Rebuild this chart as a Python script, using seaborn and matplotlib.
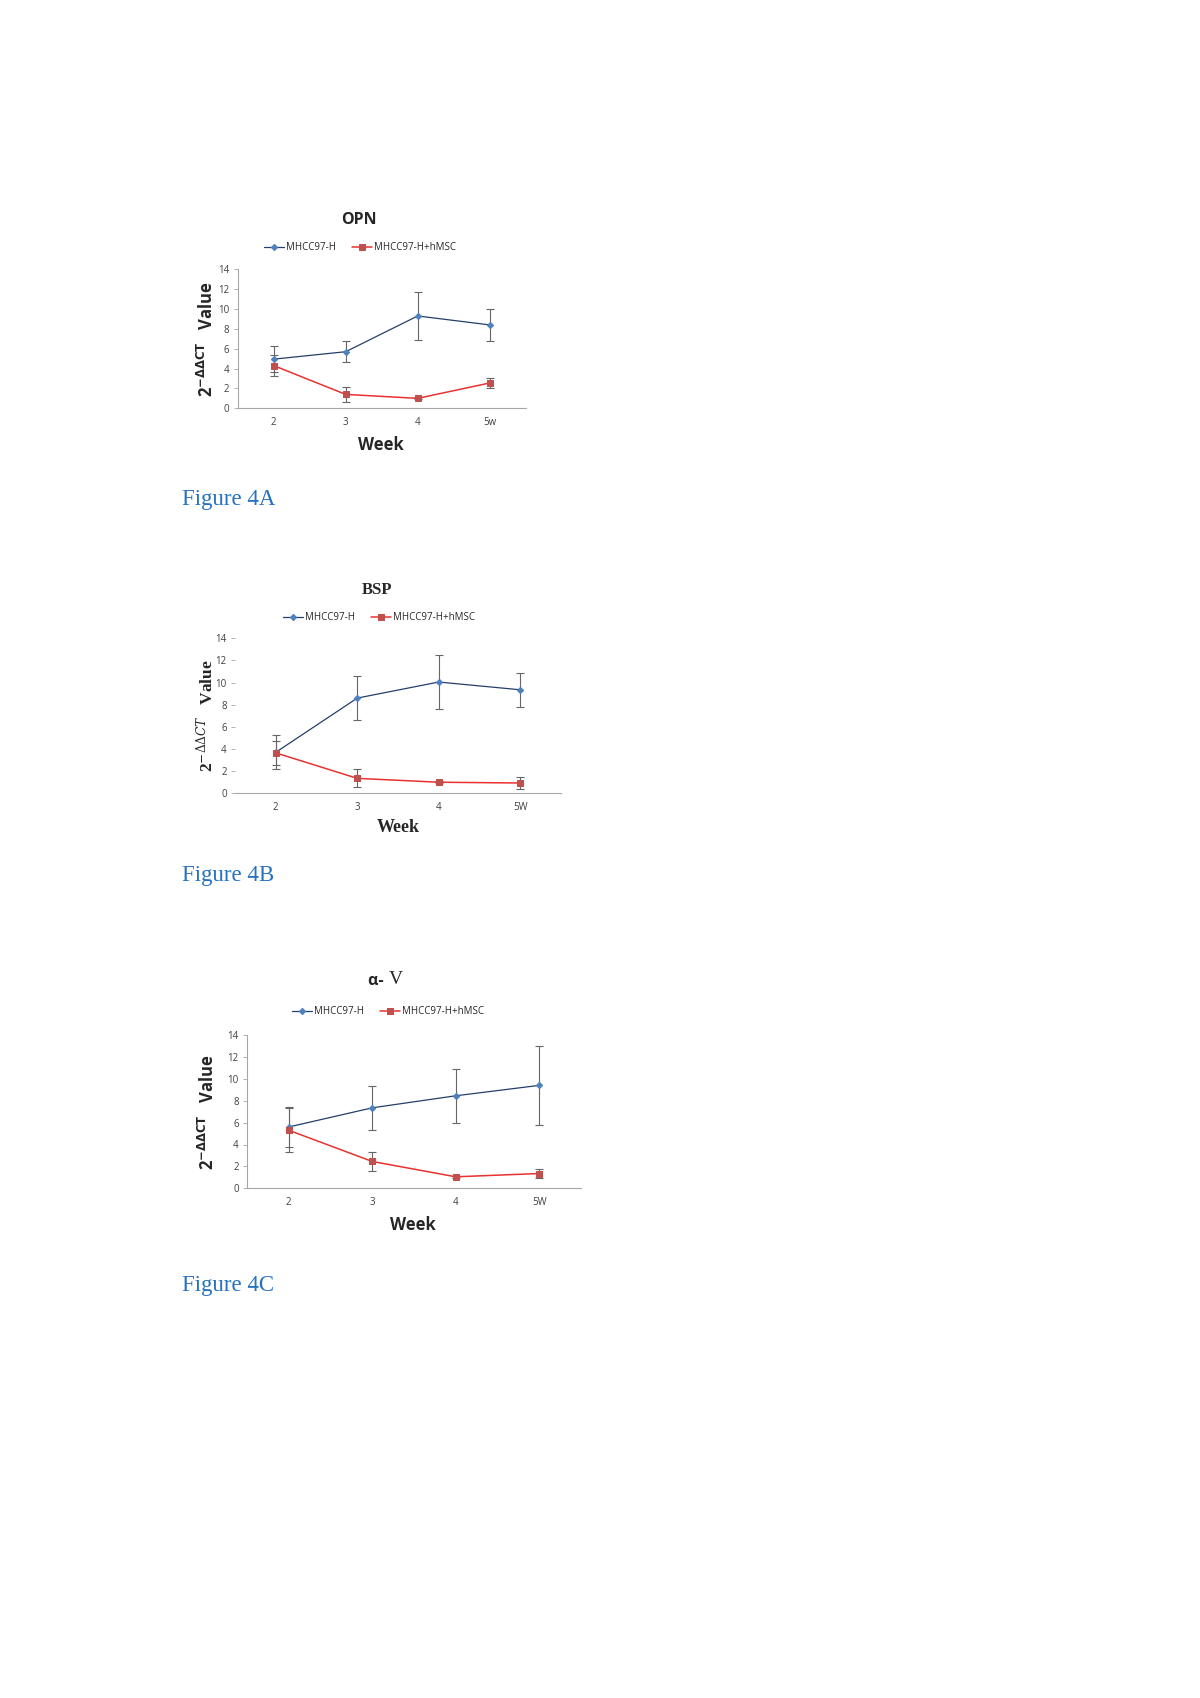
import pandas as pd
import matplotlib.pyplot as plt
import seaborn as sns

# data
weeks_a = ['2', '3', '4', '5w']
weeks_bc = ['2', '3', '4', '5W']
series = ['MHCC97-H', 'MHCC97-H+hMSC']

opn_h = [4.95, 5.7, 9.3, 8.4]
opn_h_err = [1.3, 1.05, 2.4, 1.6]
opn_m = [4.3, 1.4, 1.0, 2.55]
opn_m_err = [1.05, 0.75, 0.1, 0.55]

bsp_h = [3.7, 8.6, 10.05, 9.35]
bsp_h_err = [1.55, 2.0, 2.45, 1.55]
bsp_m = [3.65, 1.35, 1.0, 0.93]
bsp_m_err = [1.1, 0.8, 0.1, 0.52]

av_h = [5.6, 7.35, 8.45, 9.4]
av_h_err = [1.85, 2.0, 2.45, 3.6]
av_m = [5.3, 2.45, 1.05, 1.35]
av_m_err = [2.0, 0.88, 0.1, 0.4]

W, H = 1200, 1698
sns.set_theme(style='white')
plt.rcParams['font.family'] = ['Open Sans', 'DejaVu Sans']

BLUE_LINE = '#243f6b'
BLUE_MK = '#4f81bd'
RED_LINE = '#e8322f'
RED_MK = '#c0504d'
GRID = '#a6a6a6'
SERIF = ['Liberation Serif', 'DejaVu Serif']
SANS = ['Open Sans', 'DejaVu Sans']

fig = plt.figure(figsize=(W / 100, H / 100), dpi=100)


def fx(x):
    return x / W


def fy(y):
    return 1 - y / H


def panel(box, labels, h, h_err, m, m_err, leg_xy, left_spine=True):
    l, r, t, b = box
    ax = fig.add_axes([fx(l), fy(b), fx(r - l), (b - t) / H])
    df = pd.DataFrame({'pos': range(4), 'h': h, 'm': m})
    ax.errorbar(df['pos'], df['h'], yerr=h_err, fmt='none', ecolor='#666666',
                elinewidth=0.8, capsize=2.6, capthick=0.8, zorder=1)
    ax.errorbar(df['pos'], df['m'], yerr=m_err, fmt='none', ecolor='#666666',
                elinewidth=0.8, capsize=2.6, capthick=0.8, zorder=1)
    sns.lineplot(data=df, x='pos', y='h', ax=ax, color=BLUE_LINE, lw=0.9,
                 marker='D', markersize=3.2, markerfacecolor=BLUE_MK,
                 markeredgecolor=BLUE_MK, label=series[0], zorder=3)
    sns.lineplot(data=df, x='pos', y='m', ax=ax, color=RED_LINE, lw=1.1,
                 marker='s', markersize=4.2, markerfacecolor=RED_MK,
                 markeredgecolor=RED_MK, label=series[1], zorder=3)
    ax.set_xlim(-0.5, 3.5)
    ax.set_ylim(0, 14)
    ax.set_xticks(range(4))
    ax.set_xticklabels(labels)
    ax.set_yticks(range(0, 15, 2))
    ax.set_xlabel('')
    ax.set_ylabel('')
    ax.tick_params(axis='x', length=0, labelsize=7, labelcolor='#404040', pad=6)
    ax.tick_params(axis='y', length=3, width=0.6, color=GRID, labelsize=7,
                   labelcolor='#404040', pad=3, left=True)
    for s in ['top', 'right']:
        ax.spines[s].set_visible(False)
    ax.spines['bottom'].set_color(GRID)
    ax.spines['bottom'].set_linewidth(0.8)
    ax.spines['left'].set_color(GRID)
    ax.spines['left'].set_linewidth(0.8)
    ax.spines['left'].set_visible(left_spine)
    ax.legend(loc='center', bbox_to_anchor=(fx(leg_xy[0]), fy(leg_xy[1])),
              bbox_transform=fig.transFigure, ncol=2, frameon=False,
              fontsize=7, handlelength=2.0, columnspacing=1.7, handletextpad=0.2)
    return ax


# Figure 4A - OPN
panel((237.7, 525.7, 269.3, 408.3), weeks_a, opn_h, opn_h_err, opn_m, opn_m_err, (360, 248))
fig.text(fx(359), fy(220), 'OPN', family=SANS, weight='bold', fontsize=11.5,
         ha='center', va='center')
fig.text(fx(381), fy(445), 'Week', family=SANS, weight='bold', fontsize=12,
         ha='center', va='center')
t = fig.text(fx(207), fy(339), r'2$^{\mathbf{-\Delta\Delta CT}}$   Value', family=SANS,
             weight='bold', fontsize=12, rotation=90, ha='center', va='center')
t.set_math_fontfamily('dejavusans')
fig.text(fx(182), fy(500), 'Figure 4A', family=SERIF, fontsize=16.5,
         color='#2672c0', ha='left', va='center')

# Figure 4B - BSP
panel((235, 561, 638.3, 793.3), weeks_bc, bsp_h, bsp_h_err, bsp_m, bsp_m_err, (379, 617.7),
      left_spine=False)
fig.text(fx(377), fy(590), 'BSP', family=SERIF, weight='bold', fontsize=12,
         ha='center', va='center')
fig.text(fx(398), fy(828), 'Week', family=SERIF, weight='bold', fontsize=13,
         ha='center', va='center')
t = fig.text(fx(205), fy(716), r'2$^{-\Delta\Delta CT}$   Value', family=SERIF,
             weight='bold', fontsize=12.5, rotation=90, ha='center', va='center')
t.set_math_fontfamily('dejavuserif')
fig.text(fx(182), fy(876), 'Figure 4B', family=SERIF, fontsize=16.5,
         color='#2672c0', ha='left', va='center')

# Figure 4C - alpha-V
panel((247, 581, 1035, 1188.3), weeks_bc, av_h, av_h_err, av_m, av_m_err, (388, 1011.7))
fig.text(fx(388), fy(981), 'α- ', family=SANS, weight='bold', fontsize=11.5,
         ha='right', va='center')
fig.text(fx(389), fy(980), 'V', family=SERIF, fontsize=14,
         ha='left', va='center')
fig.text(fx(413), fy(1225), 'Week', family=SANS, weight='bold', fontsize=12,
         ha='center', va='center')
t = fig.text(fx(208), fy(1112), r'2$^{\mathbf{-\Delta\Delta CT}}$   Value', family=SANS,
             weight='bold', fontsize=12, rotation=90, ha='center', va='center')
t.set_math_fontfamily('dejavusans')
fig.text(fx(182), fy(1286), 'Figure 4C', family=SERIF, fontsize=16.5,
         color='#2672c0', ha='left', va='center')

fig.savefig('out.png', dpi=100)
plt.close()
